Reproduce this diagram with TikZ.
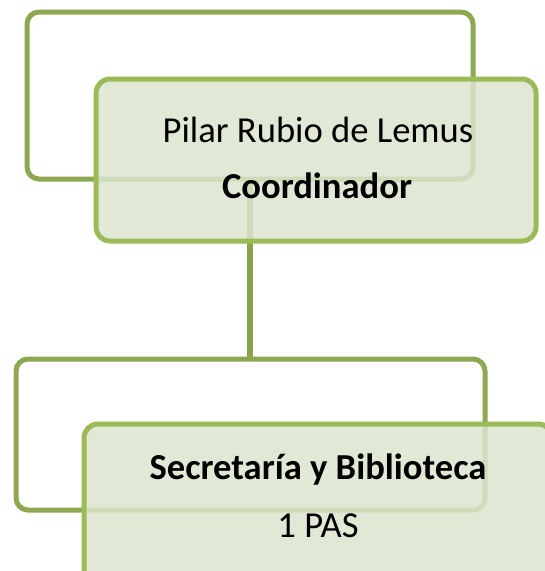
\documentclass[tikz,border=0pt]{standalone}
\usepackage{fontspec}
\setmainfont{Carlito}
\definecolor{backline}{RGB}{141,168,80}
\definecolor{frontline}{RGB}{155,187,89}
\definecolor{frontfill}{RGB}{220,228,206}
\definecolor{connline}{RGB}{136,162,76}
\begin{document}
\begin{tikzpicture}[x=1pt,y=-1pt,
  backbox/.style={draw=backline,line width=5pt,rounded corners=12pt,fill=none,inner sep=0pt},
  frontbox/.style={draw=frontline,line width=5pt,rounded corners=14pt,fill=frontfill,fill opacity=0.85,inner sep=0pt},
  conn/.style={draw=connline,line width=5.5pt},
  lbl/.style={anchor=base,inner sep=0pt,font=\fontsize{36.6}{44}\selectfont},
  blbl/.style={lbl,font=\fontsize{36.6}{44}\selectfont\bfseries}]
\clip (0,0) rectangle (545,571);
\fill[white] (0,0) rectangle (545,571);
% back boxes
\node[backbox,minimum width=446pt,minimum height=167pt] (tb) at (250,95.5) {};
\node[backbox,minimum width=469pt,minimum height=151pt] (bb) at (250.5,434.5) {};
% connector
\draw[conn] (tb.south) -- (tb.south |- bb.north);
% front boxes
\node[frontbox,minimum width=440pt,minimum height=162pt] (tf) at (316,160) {};
\node[frontbox,minimum width=468pt,minimum height=162pt] (bf) at (318,505) {};
% texts
\node[lbl] (t1) at (318,142) {Pilar Rubio de Lemus};
\node[blbl] (t2) at (317,198) {Coordinador};
\node[blbl] (t3) at (318,479) {Secretaría y Biblioteca};
\node[lbl] (t4) at (318,537) {1 PAS};
\end{tikzpicture}
\end{document}
